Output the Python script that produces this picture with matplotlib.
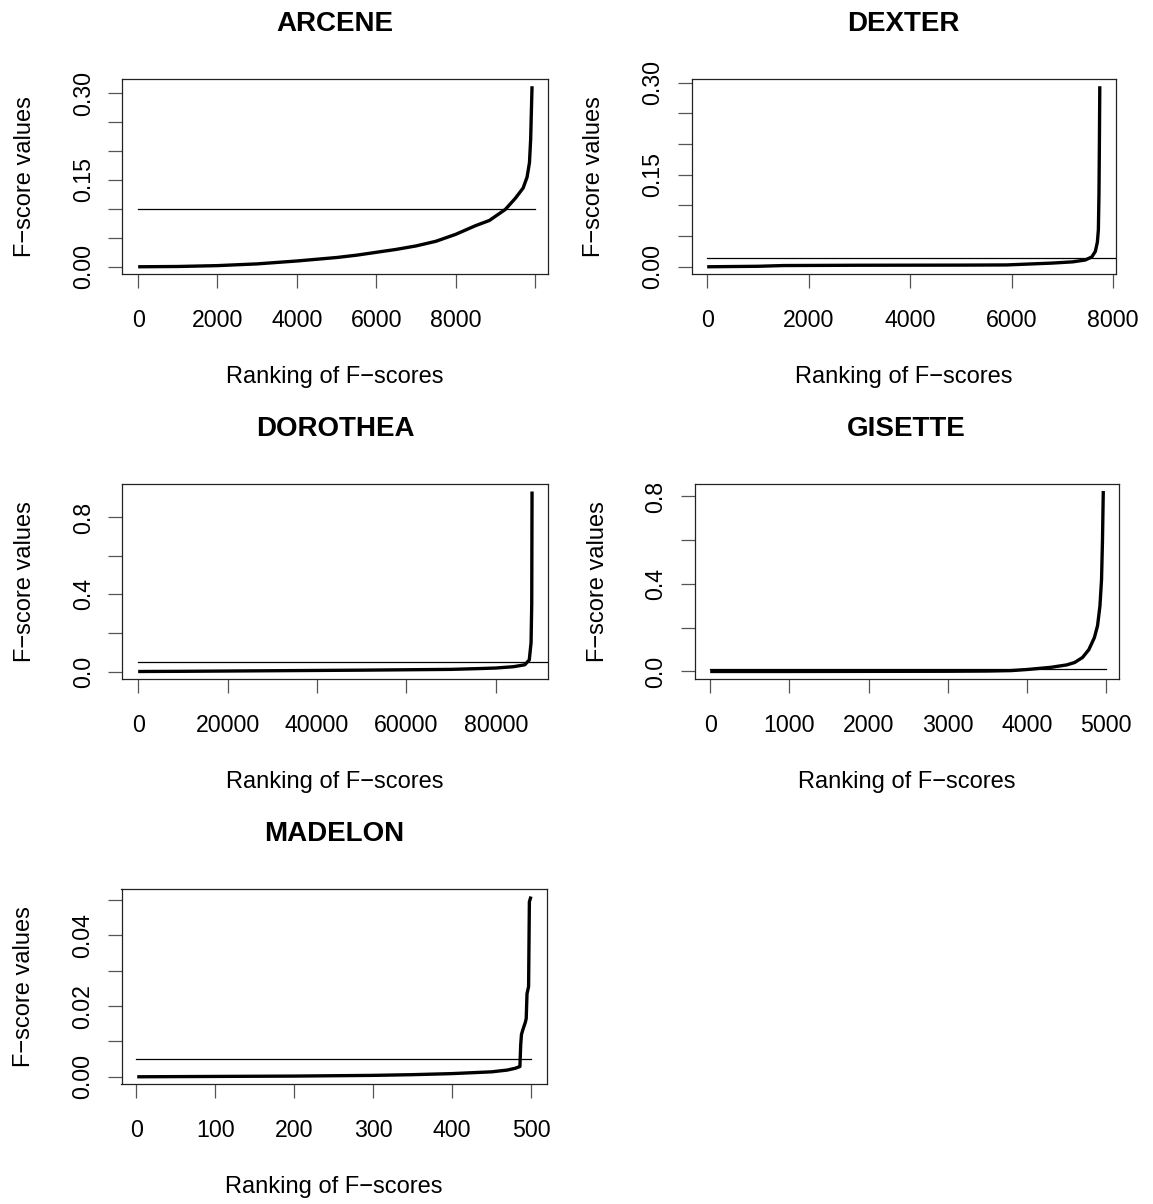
import matplotlib
matplotlib.use("Agg")
import matplotlib.pyplot as plt

plt.rcParams['font.family'] = ['Liberation Sans', 'DejaVu Sans']

# ---------------- data ----------------
titles = ["ARCENE", "DEXTER", "DOROTHEA", "GISETTE", "MADELON"]

arcene_rank = [1, 1000, 2000, 3000, 4000, 5000, 5500, 6000, 6500, 7000, 7500,
               8000, 8500, 8850, 9250, 9500, 9700, 9800, 9860, 9890, 9905, 9925]
arcene_fscore = [0.0, 0.0005, 0.002, 0.005, 0.010, 0.016, 0.020, 0.025, 0.030,
                 0.036, 0.044, 0.056, 0.071, 0.080, 0.099, 0.118, 0.136, 0.155,
                 0.18, 0.22, 0.26, 0.312]
arcene_threshold = 0.10

dexter_rank = [1, 1000, 1500, 3000, 5000, 5900, 6200, 6800, 7200, 7450, 7580,
               7650, 7690, 7710, 7722, 7730, 7738]
dexter_fscore = [0.0, 0.0008, 0.002, 0.0025, 0.0027, 0.003, 0.004, 0.006, 0.008,
                 0.011, 0.016, 0.025, 0.04, 0.06, 0.12, 0.2, 0.294]
dexter_threshold = 0.015

dorothea_rank = [1, 10000, 30000, 50000, 60000, 70000, 76000, 80000, 84000,
                 86500, 87500, 87900, 88050, 88120]
dorothea_fscore = [0.0, 0.001, 0.004, 0.007, 0.009, 0.011, 0.015, 0.018, 0.025,
                   0.035, 0.06, 0.15, 0.35, 0.935]
dorothea_threshold = 0.05

gisette_rank = [1, 1000, 2000, 3000, 3500, 3800, 4000, 4300, 4500, 4600, 4700,
                4780, 4850, 4890, 4920, 4940, 4952, 4962]
gisette_fscore = [0.0, 0.0, 0.0005, 0.001, 0.002, 0.004, 0.009, 0.019, 0.03,
                  0.041, 0.064, 0.10, 0.155, 0.21, 0.30, 0.42, 0.6, 0.825]
gisette_threshold = 0.013

madelon_rank = [1, 100, 200, 300, 350, 400, 450, 470, 480, 486, 487, 488, 490,
                493, 494, 495, 496, 497, 498, 500]
madelon_fscore = [0.0, 0.0001, 0.0002, 0.0004, 0.0006, 0.0009, 0.0014, 0.0019,
                  0.0024, 0.0029, 0.009, 0.012, 0.0135, 0.0155, 0.0165, 0.0235,
                  0.0245, 0.0255, 0.0495, 0.051]
madelon_threshold = 0.005

# threshold segment right ends (in ranking units)
threshold_end = [10000, 10000, 100000, 5000, 500]

x_ticks = [
    [0, 2000, 4000, 6000, 8000, 10000],
    [0, 2000, 4000, 6000, 8000],
    [0, 20000, 40000, 60000, 80000],
    [0, 1000, 2000, 3000, 4000, 5000],
    [0, 100, 200, 300, 400, 500],
]
x_ticklabels = [
    ["0", "2000", "4000", "6000", "8000", ""],
    ["0", "2000", "4000", "6000", "8000"],
    ["0", "20000", "40000", "60000", "80000"],
    ["0", "1000", "2000", "3000", "4000", "5000"],
    ["0", "100", "200", "300", "400", "500"],
]
y_ticks = [
    [0.00, 0.05, 0.10, 0.15, 0.20, 0.25, 0.30],
    [0.00, 0.05, 0.10, 0.15, 0.20, 0.25, 0.30],
    [0.0, 0.2, 0.4, 0.6, 0.8],
    [0.0, 0.2, 0.4, 0.6, 0.8],
    [0.00, 0.01, 0.02, 0.03, 0.04, 0.05],
]
y_ticklabels = [
    ["0.00", "", "", "0.15", "", "", "0.30"],
    ["0.00", "", "", "0.15", "", "", "0.30"],
    ["0.0", "", "0.4", "", "0.8"],
    ["0.0", "", "0.4", "", "0.8"],
    ["0.00", "", "0.02", "", "0.04", ""],
]

ranks = [arcene_rank, dexter_rank, dorothea_rank, gisette_rank, madelon_rank]
fscores = [arcene_fscore, dexter_fscore, dorothea_fscore, gisette_fscore, madelon_fscore]
thresholds = [arcene_threshold, dexter_threshold, dorothea_threshold,
              gisette_threshold, madelon_threshold]

xlabel = "Ranking of F\u2212scores"
ylabel = "F\u2212score values"

# ---------------- layout (pixels) ----------------
W, H = 1153, 1204
fig = plt.figure(figsize=(W / 100, H / 100), dpi=100)

# (left, top, right, bottom) of plotting boxes in pixels
boxes = [
    (122.4, 79.0, 547.8, 274.0),
    (691.5, 79.0, 1115.5, 274.0),
    (122.4, 484.3, 547.8, 678.7),
    (694.5, 483.8, 1119.0, 678.7),
    (121.5, 889.3, 546.7, 1084.0),
]

LABEL_FS = 17
TICK_FS = 16.7
TITLE_FS = 20

for i in range(5):
    l, t, r, b = boxes[i]
    wpx, hpx = r - l, b - t
    ax = fig.add_axes([l / W, 1 - b / H, wpx / W, hpx / H])

    xs, ys = ranks[i], fscores[i]
    ax.plot(xs, ys, color="black", lw=2.4, solid_capstyle="butt",
            solid_joinstyle="round")
    ax.plot([0, threshold_end[i]], [thresholds[i], thresholds[i]],
            color="black", lw=0.9)

    # R-style 4% extension of data range
    xr = max(xs) - min(xs)
    yr = max(ys) - min(ys)
    ax.set_xlim(min(xs) - 0.04 * xr, max(xs) + 0.04 * xr)
    ax.set_ylim(min(ys) - 0.04 * yr, max(ys) + 0.04 * yr)

    for sp in ax.spines.values():
        sp.set_linewidth(0.9)
        sp.set_color("#222222")

    ax.set_xticks(x_ticks[i], labels=x_ticklabels[i])
    ax.set_yticks(y_ticks[i], labels=y_ticklabels[i])
    ax.tick_params(axis="both", direction="out", length=10, width=0.9,
                   color="#555555", labelsize=TICK_FS)
    ax.tick_params(axis="x", pad=15.5)
    ax.tick_params(axis="y", pad=9.5)
    for lab in ax.get_yticklabels():
        lab.set_rotation(90)
        lab.set_va("center")

    ax.set_title(titles[i], fontsize=TITLE_FS, fontweight="bold",
                 y=1 + 48.0 / hpx, pad=0, va="baseline")
    ax.set_xlabel(xlabel, fontsize=LABEL_FS, va="baseline")
    ax.xaxis.set_label_coords(0.5, -109.0 / hpx)
    ax.set_ylabel(ylabel, fontsize=LABEL_FS, va="baseline")
    ax.yaxis.set_label_coords(-91.0 / wpx, 0.5)

fig.savefig("out.png", dpi=100)
